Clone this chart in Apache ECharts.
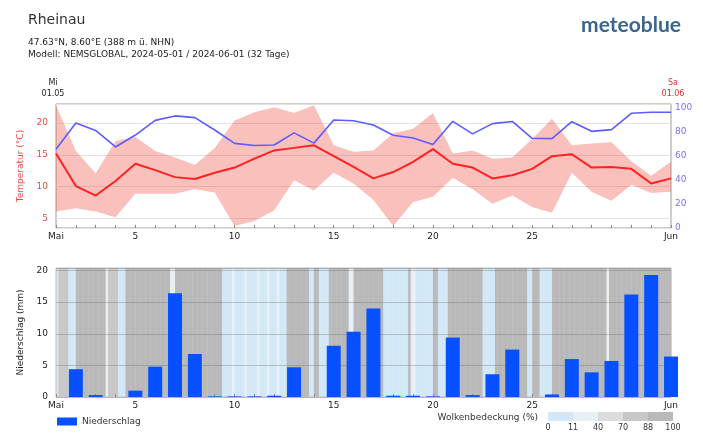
<!DOCTYPE html>
<html>
<head>
<meta charset="utf-8">
<title>Rheinau – Mai 2024</title>
<script src="https://cdn.jsdelivr.net/npm/echarts@6/dist/echarts.min.js"></script>
<style>
  html, body { margin: 0; padding: 0; background: #ffffff; }
  #chart { width: 703px; height: 436px; }
</style>
</head>
<body>
<div id="chart"></div>
<script>
// Daily values, 01.05.2024 … 01.06.2024 (32 days)
const dates = ['01.05','02.05','03.05','04.05','05.05','06.05','07.05','08.05','09.05','10.05',
  '11.05','12.05','13.05','14.05','15.05','16.05','17.05','18.05','19.05','20.05',
  '21.05','22.05','23.05','24.05','25.05','26.05','27.05','28.05','29.05','30.05','31.05','01.06'];

// Temperature (°C)
const tempMean = [15.2, 10.1, 8.6, 10.9, 13.6, 12.6, 11.5, 11.2, 12.2, 13.0,
  14.4, 15.7, 16.1, 16.5, 14.8, 13.1, 11.3, 12.3, 13.9, 15.9,
  13.6, 13.0, 11.3, 11.8, 12.8, 14.8, 15.1, 13.0, 13.1, 12.8, 10.5, 11.3];
const tempMax = [22.8, 15.6, 12.1, 17.2, 17.8, 15.6, 14.6, 13.4, 16.1, 20.4,
  21.7, 22.5, 21.6, 22.8, 16.5, 15.5, 15.7, 18.4, 19.1, 21.6,
  15.2, 15.7, 14.4, 14.6, 17.5, 20.7, 16.5, 16.8, 17.0, 14.0, 11.7, 13.9];
const tempMin = [6.1, 6.6, 6.1, 5.2, 8.9, 8.9, 8.9, 9.6, 9.1, 3.8,
  4.6, 6.3, 11.0, 9.4, 12.2, 10.5, 7.9, 3.8, 7.6, 8.4,
  11.4, 9.6, 7.3, 8.6, 6.8, 5.9, 12.2, 9.2, 7.8, 10.3, 9.0, 9.2];

// Relative humidity (%)
const humidity = [65.5, 87.3, 81.0, 67.3, 77.2, 89.4, 93.1, 91.7, 81.4, 70.3,
  68.5, 68.9, 79.0, 70.5, 89.7, 89.1, 85.5, 77.0, 74.8, 69.4,
  88.6, 78.2, 86.7, 88.5, 74.5, 74.2, 88.3, 80.3, 81.7, 95.3, 96.1, 96.1];

// Precipitation (mm)
const precip = [0, 4.4, 0.3, 0, 1.0, 4.8, 16.4, 6.8, 0.1, 0.1,
  0.1, 0.2, 4.7, 0, 8.1, 10.3, 14.0, 0.2, 0.2, 0.1,
  9.4, 0.3, 3.6, 7.5, 0, 0.4, 6.0, 3.9, 5.7, 16.2, 19.3, 6.4];

// Cloud cover (%), 3-hourly, one row per day (01.05 … 31.05)
const cloudCover = [
  [5, 80, 80, 80, 85, 5, 5, 5],
  [95, 95, 95, 95, 95, 95, 95, 95],
  [95, 95, 95, 95, 25, 80, 80, 80],
  [80, 10, 5, 5, 95, 95, 95, 95],
  [95, 95, 95, 95, 95, 95, 95, 95],
  [95, 95, 95, 95, 95, 95, 30, 30],
  [95, 95, 95, 95, 95, 95, 95, 95],
  [95, 95, 95, 95, 95, 95, 95, 95],
  [95, 95, 95, 5, 5, 5, 5, 25],
  [5, 5, 5, 5, 25, 5, 5, 5],
  [5, 25, 5, 5, 5, 25, 5, 5],
  [5, 25, 5, 5, 5, 95, 95, 95],
  [95, 95, 95, 95, 95, 95, 5, 5],
  [95, 95, 5, 5, 5, 5, 95, 95],
  [95, 95, 95, 95, 95, 95, 30, 30],
  [95, 95, 95, 95, 95, 95, 95, 95],
  [95, 95, 95, 95, 5, 5, 5, 5],
  [5, 5, 5, 5, 5, 5, 95, 30],
  [30, 5, 5, 5, 5, 5, 5, 5],
  [95, 95, 5, 5, 5, 5, 95, 95],
  [95, 95, 95, 95, 95, 95, 95, 95],
  [95, 95, 95, 95, 5, 5, 5, 5],
  [5, 95, 95, 95, 95, 95, 95, 95],
  [95, 95, 95, 95, 95, 95, 5, 5],
  [95, 95, 95, 5, 5, 5, 5, 5],
  [95, 95, 95, 95, 95, 95, 95, 95],
  [95, 95, 95, 95, 95, 95, 95, 95],
  [95, 95, 95, 95, 95, 95, 30, 95],
  [95, 95, 95, 95, 95, 95, 95, 95],
  [95, 95, 95, 95, 95, 95, 95, 95],
  [95, 95, 95, 95, 95, 95, 95, 95]
];

// Axis tick labels
const xTickDays = [0, 4, 9, 14, 19, 24, 31];
const xTickNames = ['Mai', '5', '10', '15', '20', '25', 'Jun'];
const cloudBinEdges = [0, 11, 40, 70, 88, 100];
const cloudBinColors = ['#d3e8f6', '#e8f0f5', '#dcdcdc', '#c8c8c8', '#b9b9b9'];

const FONT = 'DejaVu Sans';
const PRECIP_MAX = 20.4;

function cloudColor(c) {
  for (let k = 0; k < cloudBinColors.length; k++) {
    if (c < cloudBinEdges[k + 1]) return cloudBinColors[k];
  }
  return cloudBinColors[cloudBinColors.length - 1];
}

const xy = arr => arr.map((v, i) => [i, v]);

const cloudBlocks = [];
cloudCover.forEach((row, d) => {
  row.forEach((c, k) => {
    cloudBlocks.push([d + k / row.length, d + (k + 1) / row.length, c]);
  });
});

function xLabel(v) {
  const k = xTickDays.indexOf(Math.round(v));
  return k >= 0 ? xTickNames[k] : '';
}

const xAxisBase = {
  type: 'value', min: 0, max: dates.length - 1, interval: 1,
  axisLine: { show: false },
  axisTick: { show: true, inside: true, length: 3, lineStyle: { color: '#888' } },
  splitLine: { show: false },
  axisLabel: { formatter: xLabel, color: '#222', fontSize: 9, fontFamily: FONT, margin: 4 }
};

const chart = echarts.init(document.getElementById('chart'), null, { renderer: 'canvas' });

const option = {
  backgroundColor: '#ffffff',
  animation: false,
  textStyle: { fontFamily: FONT },
  grid: [
    { left: 56, top: 104, width: 615, height: 124, outerBoundsMode: 'none', containLabel: false,
      show: true, borderColor: '#9a9a9a', borderWidth: 1, backgroundColor: 'transparent' },
    { left: 56, top: 268, width: 615, height: 129, outerBoundsMode: 'none', containLabel: false,
      show: true, borderColor: '#c0c0c0', borderWidth: 1, backgroundColor: 'transparent' }
  ],
  xAxis: [
    Object.assign({ gridIndex: 0 }, xAxisBase),
    Object.assign({ gridIndex: 1 }, xAxisBase)
  ],
  yAxis: [
    {
      gridIndex: 0, type: 'value', min: 3.5, max: 23, splitNumber: 4,
      name: 'Temperatur (°C)', nameLocation: 'middle', nameGap: 30, nameRotate: 90,
      nameTextStyle: { color: '#f04a4a', fontSize: 9, fontFamily: FONT },
      axisLine: { show: false },
      axisTick: { show: false },
      axisLabel: { color: '#f04a4a', fontSize: 9, fontFamily: FONT, showMinLabel: false, showMaxLabel: false, margin: 8 },
      splitLine: { show: true, lineStyle: { color: '#e2e2e2', width: 1 } }
    },
    {
      gridIndex: 0, type: 'value', min: 0, max: 103, interval: 20, position: 'right',
      name: 'Rel. Feu. (%)', nameLocation: 'middle', nameGap: 22, nameRotate: -90,
      nameTextStyle: { color: '#6b6bff', fontSize: 9, fontFamily: FONT },
      axisLine: { show: false },
      axisTick: { show: false },
      axisLabel: { color: '#7373ff', fontSize: 9, fontFamily: FONT, showMaxLabel: false, margin: 4 },
      splitLine: { show: false }
    },
    {
      gridIndex: 1, type: 'value', min: 0, max: PRECIP_MAX, interval: 5,
      name: 'Niederschlag (mm)', nameLocation: 'middle', nameGap: 28, nameRotate: 90,
      nameTextStyle: { color: '#222', fontSize: 9, fontFamily: FONT },
      axisLine: { show: false },
      axisTick: { show: false },
      axisLabel: { color: '#222', fontSize: 9, fontFamily: FONT, showMaxLabel: false, margin: 8 },
      splitLine: { show: true, lineStyle: { color: 'rgba(110,110,110,0.35)', width: 1 } }
    }
  ],
  legend: {
    data: ['Niederschlag'], left: 52, top: 412, itemWidth: 20, itemHeight: 8, itemGap: 6,
    textStyle: { color: '#333', fontSize: 9, fontFamily: FONT },
    icon: 'rect'
  },
  series: [
    {
      // min/max temperature range as one filled polygon
      name: 'Temperaturbereich', type: 'custom', xAxisIndex: 0, yAxisIndex: 0,
      data: [[0, tempMin[0], tempMax[0]]], encode: { x: 0, y: [1, 2] }, silent: true, z: 1,
      renderItem: function (params, api) {
        const upper = tempMax.map((v, i) => api.coord([i, v]));
        const lower = tempMin.map((v, i) => api.coord([i, v])).reverse();
        return {
          type: 'polygon',
          shape: { points: upper.concat(lower) },
          style: { fill: 'rgba(240,70,60,0.34)' }
        };
      }
    },
    {
      name: 'Rel. Feuchte', type: 'line', xAxisIndex: 0, yAxisIndex: 1,
      data: xy(humidity), symbol: 'none', lineStyle: { color: '#5c5cff', width: 1.6 }, z: 3
    },
    {
      name: 'Temperatur', type: 'line', xAxisIndex: 0, yAxisIndex: 0,
      data: xy(tempMean), symbol: 'none', lineStyle: { color: '#ff2222', width: 2 }, z: 4
    },
    {
      name: 'Wolkenbedeckung', type: 'custom', xAxisIndex: 1, yAxisIndex: 2,
      data: cloudBlocks, encode: { x: [0, 1], y: 2 }, silent: true, z: -1,
      renderItem: function (params, api) {
        const p0 = api.coord([api.value(0), PRECIP_MAX]);
        const p1 = api.coord([api.value(1), 0]);
        return {
          type: 'rect',
          shape: { x: p0[0], y: p0[1], width: p1[0] - p0[0] + 0.4, height: p1[1] - p0[1] },
          style: { fill: cloudColor(api.value(2)) }
        };
      }
    },
    {
      name: 'Niederschlag', type: 'bar', xAxisIndex: 1, yAxisIndex: 2,
      data: xy(precip), barWidth: 14, clip: true,
      itemStyle: { color: '#0750ff' }, z: 3
    }
  ],
  graphic: [
    { type: 'text', left: 28, top: 13, style: { text: 'Rheinau', fontSize: 14, fontFamily: FONT, fill: '#333' } },
    { type: 'text', left: 28, top: 38, style: { text: '47.63°N, 8.60°E (388 m ü. NHN)', fontSize: 9, fontFamily: FONT, fill: '#222' } },
    { type: 'text', left: 28, top: 50, style: { text: 'Modell: NEMSGLOBAL, 2024-05-01 / 2024-06-01 (32 Tage)', fontSize: 9, fontFamily: FONT, fill: '#222' } },
    { type: 'text', right: 22, top: 15, style: { text: 'meteoblue', fontSize: 21, fontWeight: 'bold', fontFamily: 'Lato', fill: '#3b6590' } },
    { type: 'text', x: 53, y: 77, style: { text: 'Mi\n01.05', fontSize: 8, lineHeight: 11, fontFamily: FONT, fill: '#222', align: 'center' } },
    { type: 'text', x: 673, y: 77, style: { text: 'Sa\n01.06', fontSize: 8, lineHeight: 11, fontFamily: FONT, fill: '#e03030', align: 'center' } },
    { type: 'text', x: 538, y: 413, style: { text: 'Wolkenbedeckung (%)', fontSize: 9, fontFamily: FONT, fill: '#333', align: 'right' } },
    {
      type: 'group', x: 548, y: 412,
      children: cloudBinColors.map((col, k) => ({
        type: 'rect', shape: { x: k * 25, y: 0, width: 25, height: 9 }, style: { fill: col }
      })).concat(cloudBinEdges.map((v, k) => ({
        type: 'text', x: k * 25, y: 12, style: { text: String(v), fontSize: 8, fontFamily: FONT, fill: '#333', align: 'center' }
      })))
    }
  ]
};

chart.setOption(option);
</script>
</body>
</html>
